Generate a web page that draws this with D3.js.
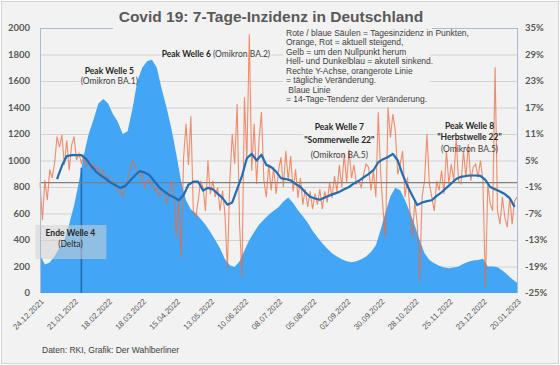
<!DOCTYPE html>
<html>
<head>
<meta charset="utf-8">
<title>Covid 19: 7-Tage-Inzidenz in Deutschland</title>
<style>
body { margin: 0; background: #fff; }
svg { display: block; font-family: Lato, "Liberation Sans", sans-serif; }
.tick-left, .tick-right { font-size: 9.5px; font-weight: 700; fill: #595959; }
.xaxis text { font-size: 8px; fill: #595959; }
.note { font-size: 8.5px; fill: #262626; }
.legend { font-family: "Liberation Sans", Arial, sans-serif; font-size: 8.5px; fill: #404040; }
</style>
<script src="https://cdn.jsdelivr.net/npm/d3@7"></script>
</head>
<body>
<svg id="chart"></svg>
<script>

var width = 560, height = 365;
var margin = {top: 28, right: 43, bottom: 72, left: 40};

var parseDate = d3.timeParse("%d.%m.%Y");
var startDate = parseDate("24.12.2021");

// 7-Tage-Inzidenz, one value every 4 days from 24.12.2021
var incidenceStep = 4;
var incidence = [
  290, 215, 230, 280, 340, 400, 520, 660, 840, 1040,
  1200, 1310, 1430, 1465, 1430, 1350, 1290, 1200, 1220, 1390,
  1600, 1700, 1750, 1760, 1700, 1540, 1400, 1240, 1050, 840,
  700, 630, 600, 560, 515, 460, 400, 335, 255, 210,
  196, 240, 320, 400, 460, 515, 555, 590, 620, 648,
  690, 720, 680, 625, 580, 530, 470, 420, 375, 335,
  300, 275, 255, 240, 232, 240, 255, 275, 310, 360,
  480, 610, 730, 795, 775, 700, 610, 510, 400, 300,
  250, 225, 205, 192, 186, 192, 200, 220, 236, 245,
  250, 258, 200, 200, 195, 170, 140, 105, 78
];

// daily change in %, one value every 2 days from 24.12.2021
var changeStep = 2;
var dailyChange = [
  0, -8.5, 0.5, -4, 3, 1, 4.4, 10.4, 8, 10.8,
  4, 9.6, 2.8, 8.5, 10.4, 5.1, 6.6, 4.4, 6.2, 3.6,
  5.1, 2.8, 4.2, 2.7, 3.5, 1.2, 2.7, 0.4, 1.2, -0.3,
  0.4, -0.8, -2.1, -1.7, -3.2, -0.9, 0.5, 2.8, 5.1, 3.6,
  2.8, 1.3, 2, -1.1, 0.5, 0.6, -0.9, -1.8, -1, -3.3,
  -1.3, -2.4, -4.8, -2.8, 0.4, -2.1, -12.4, -3.9, -17, 5.7,
  13.3, 4, 15, -6.4, -7.9, -4.1, 0.4, -1.1, -6.4, 5,
  -2.6, 0.4, -3.3, -1.1, -6.4, -1.8, -7.1, -19.5, 0.4, 11,
  4.2, 17.8, -9.4, -21.4, 19.3, 5, 33.6, 2.7, 13.3, -0.3,
  9.5, 16, 0.4, -3.3, 4.2, -1.8, 3.5, -2.6, 2.7, 5.7,
  -1, 7.2, 0.5, 6, -2, 3, -3.5, 1, -5, -1.5,
  -5.5, -2, -6, -2.5, -5, -1.5, -6, -2, -4.5, 0,
  -3.5, 1.5, -2, 4, -1, 6.5, 0, 7.5, 1, 4,
  -0.3, 0.4, -1.1, 1.9, 4.2, 3.5, -1.8, 2.7, -3.3, 15.9,
  1.9, -6.4, -12.4, 17, 10.2, 15.5, 11.7, 1.9, 4, 7.2,
  -3.3, 1.2, -6.4, -12.4, -4.1, -9.4, -22.2, -3.3, 0.4, 11,
  -0.3, -3.3, -6.4, 0.4, -1.8, 2.7, -2.6, 7.2, -0.3, 4.2,
  0.4, 10, 0.4, -0.3, 7.2, 1.2, 8.7, 0.4, 3.5, 4.2,
  1.2, 5, 0.4, -23.7, -0.3, -4.8, -6.4, 26.1, -6.4, -9.4,
  -3.3, -7.9, -10.1, -3.3, -9.4, -4.1, -3.3
];

// 14-Tage-Tendenz in %, every 4 days starting 07.01.2022 (day 14)
var trendFirstDay = 14, trendStep = 4;
var trend = [
  0.8, 3.8, 6.0, 6.2, 6.2, 6.2, 5.3, 3.8, 2.5, 1.6,
  0.9, 0.0, -0.6, -1.2, -0.8, 0.4, 1.6, 2.6, 2.3, 1.7,
  0.3, -1.1, -2.0, -2.8, -3.3, -4.0, -2.8, -0.5, 0.2, 0.2,
  -1.8, -1.2, -1.5, -2.5, -3.5, -5.0, -4.5, -1.5, 1.5, 5.5,
  6.5, 5.0, 6.3, 4.0, 3.5, 2.5, 1.0, 0.8, 0.5, -0.3,
  -1.0, -2.2, -3.2, -3.6, -3.9, -3.4, -2.9, -2.5, -2.1, -1.5,
  -1.0, -0.2, 0.4, 1.2, 1.9, 2.8, 4.6, 5.3, 5.8, 6.5,
  5.0, 1.8, -0.8, -3.0, -5.1, -4.5, -4.2, -4.0, -3.0, -2.2,
  -1.2, -0.2, 0.8, 1.3, 1.5, 1.6, 1.6, 1.5, 0.6, -1.0,
  -1.5, -2.0, -2.6, -3.5, -5.5
];

// dark blue day bar (end of wave 4)
var markedDate = "27.01.2022", markedValue = 945;

var leftTicks = [0, 200, 400, 600, 800, 1000, 1200, 1400, 1600, 1800, 2000];
var rightTicks = [-25, -19, -13, -7, -1, 5, 11, 17, 23, 29, 35];
var dateTicks = ["24.12.2021", "21.01.2022", "18.02.2022", "18.03.2022", "15.04.2022",
  "13.05.2022", "10.06.2022", "08.07.2022", "05.08.2022", "02.09.2022",
  "30.09.2022", "28.10.2022", "25.11.2022", "23.12.2022", "20.01.2023"];

var title = "Covid 19: 7-Tage-Inzidenz in Deutschland";
var legendLines = [
  "Rote / blaue Säulen = Tagesinzidenz in Punkten,",
  "Orange, Rot = aktuell steigend,",
  "Gelb = um den Nullpunkt herum",
  "Hell- und Dunkelblau = akutell sinkend.",
  "Rechte Y-Achse, orangerote Linie",
  "= tägliche Veränderung.",
  " Blaue Linie",
  "= 14-Tage-Tendenz der Veränderung."
];
var footnote = "Daten: RKI, Grafik: Der Wahlberliner";

// [text, bold] parts per line; anchored at a date / incidence value
var notes = [
  {date: "19.02.2022", value: 1650, anchor: "middle", dy: [0, 10],
   lines: [[["Peak Welle 5", true]], [["(Omikron BA.1)", false]]]},
  {date: "03.04.2022", value: 1780, anchor: "start", dy: [0],
   lines: [[["Peak Welle 6 ", true], ["(Omikron BA.2)", false]]]},
  {date: "27.08.2022", value: 1230, anchor: "middle", dy: [0, 13, 28],
   lines: [[["Peak Welle 7", true]], [["\"Sommerwelle 22\"", true]], [["(Omikron BA.5)", false]]]},
  {date: "12.12.2022", value: 1240, anchor: "middle", dy: [0, 11, 23],
   lines: [[["Peak Welle 8", true]], [["\"Herbstwelle 22\"", true]], [["(Omikron BA.5)", false]]]}
];
var endNote = {date: "18.01.2022", value: 430, lines: ["Ende Welle 4", "(Delta)"]};

var x = d3.scaleTime()
    .domain([parseDate(dateTicks[0]), parseDate(dateTicks[dateTicks.length - 1])])
    .range([margin.left, width - margin.right]);
var yL = d3.scaleLinear().domain([0, 2000]).range([height - margin.bottom, margin.top]);
var yR = d3.scaleLinear().domain([-25, 35]).range([height - margin.bottom, margin.top]);

var incidenceData = incidence.map(function(v, i) {
  return {date: d3.timeDay.offset(startDate, i * incidenceStep), value: v};
});
var changeData = dailyChange.map(function(v, i) {
  return {date: d3.timeDay.offset(startDate, i * changeStep), value: v};
});
var trendData = trend.map(function(v, i) {
  return {date: d3.timeDay.offset(startDate, trendFirstDay + i * trendStep), value: v};
});

var svg = d3.select("#chart").attr("width", width).attr("height", height);

svg.append("rect")
    .attr("x", 1.5).attr("y", 1.5)
    .attr("width", width - 3).attr("height", height - 3)
    .attr("fill", "#f2f2f2").attr("stroke", "#d4d4d4");

var x0 = margin.left, x1 = width - margin.right;
var yTop = margin.top, yBottom = height - margin.bottom;

// gridlines
svg.append("g").selectAll("line")
  .data(leftTicks.filter(function(d) { return d > 0; }))
  .enter().append("line")
    .attr("x1", x0).attr("x2", x1)
    .attr("y1", function(d) { return yL(d) + 0.5; })
    .attr("y2", function(d) { return yL(d) + 0.5; })
    .attr("stroke", function(d) { return d == 2000 ? "#a9bbd3" : "#d2d2d2"; })
    .attr("stroke-width", 1);

var boxLayer = svg.append("g");
var seriesLayer = svg.append("g");
var textLayer = svg.append("g");

// title + legend boxes hide the grid behind them
boxLayer.append("rect").attr("x", 113).attr("y", 3).attr("width", 319).attr("height", 26).attr("fill", "#f2f2f2");
boxLayer.append("rect").attr("x", 283).attr("y", 26).attr("width", 147).attr("height", 79).attr("fill", "#f2f2f2");

seriesLayer.append("path")
    .datum(incidenceData)
    .attr("fill", "#42a5f5")
    .attr("d", d3.area()
      .x(function(d) { return x(d.date); })
      .y0(yL(0))
      .y1(function(d) { return yL(d.value); }));

seriesLayer.append("rect")
    .attr("x", x(parseDate(markedDate)) - 0.8)
    .attr("y", yL(markedValue))
    .attr("width", 1.6)
    .attr("height", yL(0) - yL(markedValue))
    .attr("fill", "#1f6db4");

seriesLayer.append("line")
    .attr("x1", x0).attr("x2", x1)
    .attr("y1", yR(0)).attr("y2", yR(0))
    .attr("stroke", "#7f7f7f").attr("stroke-width", 1.3);

seriesLayer.append("path")
    .datum(changeData)
    .attr("fill", "none")
    .attr("stroke", "#ee6a3c")
    .attr("stroke-opacity", 0.75)
    .attr("stroke-width", 1.1)
    .attr("d", d3.line()
      .x(function(d) { return x(d.date); })
      .y(function(d) { return yR(d.value); }));

seriesLayer.append("path")
    .datum(trendData)
    .attr("fill", "none")
    .attr("stroke", "#1f6db4")
    .attr("stroke-width", 2.2)
    .attr("stroke-linejoin", "round")
    .attr("d", d3.line()
      .x(function(d) { return x(d.date); })
      .y(function(d) { return yR(d.value); }));

// frame sides
svg.append("line").attr("x1", x0 + 0.5).attr("x2", x0 + 0.5).attr("y1", yTop).attr("y2", yBottom)
    .attr("stroke", "#a9bbd3");
svg.append("line").attr("x1", x1 + 0.5).attr("x2", x1 + 0.5).attr("y1", yTop).attr("y2", yBottom)
    .attr("stroke", "#a9bbd3");

// axes labels
svg.append("g").selectAll("text")
  .data(leftTicks)
  .enter().append("text")
    .attr("class", "tick-left")
    .attr("x", 30)
    .attr("y", function(d) { return yL(d); })
    .attr("dy", "0.35em")
    .attr("text-anchor", "end")
    .text(function(d) { return d; });

svg.append("g").selectAll("text")
  .data(rightTicks)
  .enter().append("text")
    .attr("class", "tick-right")
    .attr("x", 525)
    .attr("y", function(d) { return yR(d); })
    .attr("dy", "0.35em")
    .text(function(d) { return d + "%"; });

var xAxis = d3.axisBottom(x)
    .tickValues(dateTicks.map(parseDate))
    .tickFormat(d3.timeFormat("%d.%m.%Y"))
    .tickSize(0);

var gx = svg.append("g")
    .attr("class", "xaxis")
    .attr("transform", "translate(0," + yBottom + ")")
    .call(xAxis);
gx.select(".domain").remove();
gx.selectAll("text")
    .attr("x", 0).attr("y", 0).attr("dy", "0.35em")
    .attr("text-anchor", "end")
    .attr("transform", "translate(2,7) rotate(-45)");

// title, legend, footnote
textLayer.append("text")
    .attr("x", 271).attr("y", 21.5)
    .attr("text-anchor", "middle")
    .style("font-family", "'Liberation Sans', Arial, sans-serif")
    .style("font-size", "15.5px").style("font-weight", "700")
    .attr("fill", "#595959")
    .text(title);

textLayer.append("g").selectAll("text")
  .data(legendLines)
  .enter().append("text")
    .attr("class", "legend")
    .attr("x", 286)
    .attr("y", function(d, i) { return 36 + i * 9.45; })
    .attr("xml:space", "preserve")
    .text(function(d) { return d; });

textLayer.append("text")
    .attr("class", "legend")
    .attr("x", 42).attr("y", 353)
    .text(footnote);

// wave annotations
notes.forEach(function(n) {
  var ax = x(parseDate(n.date)), ay = yL(n.value);
  var g = textLayer.append("g");
  n.lines.forEach(function(parts, i) {
    var t = g.append("text")
        .attr("class", "note")
        .attr("x", ax).attr("y", ay + n.dy[i])
        .attr("text-anchor", n.anchor)
        .attr("xml:space", "preserve");
    parts.forEach(function(p) {
      t.append("tspan")
        .style("font-weight", p[1] ? 700 : 400)
        .attr("fill", p[1] ? "#262626" : "#404040")
        .text(p[0]);
    });
  });
  var b = g.node().getBBox();
  boxLayer.append("rect")
      .attr("x", b.x - 1).attr("y", b.y)
      .attr("width", b.width + 2).attr("height", b.height)
      .attr("fill", "#f2f2f2");
});

// "Ende Welle 4" box sits over the bars
var ex = x(parseDate(endNote.date)), ey = yL(endNote.value);
textLayer.append("rect")
    .attr("x", ex - 35).attr("y", ey - 11)
    .attr("width", 71).attr("height", 34)
    .attr("fill", "#d4d4d4").attr("fill-opacity", 0.55);
endNote.lines.forEach(function(s, i) {
  textLayer.append("text")
      .attr("class", "note")
      .attr("x", ex).attr("y", ey + i * 11)
      .attr("text-anchor", "middle")
      .style("font-weight", i == 0 ? 700 : 400)
      .attr("fill", i == 0 ? "#262626" : "#404040")
      .text(s);
});

</script>
</body>
</html>
